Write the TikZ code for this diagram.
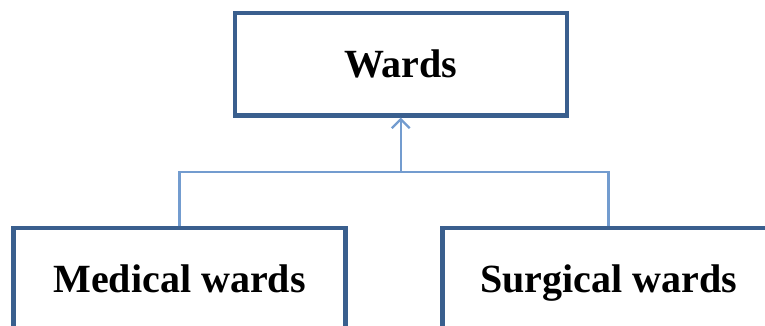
\documentclass[tikz,border=0pt]{standalone}
\usepackage{fontspec}
\setmainfont{Liberation Serif}
\usetikzlibrary{arrows.meta}
\definecolor{boxline}{HTML}{3A5F8E}
\definecolor{linkline}{HTML}{739CCF}
\tikzset{
  wardbox/.style={draw=boxline, line width=4.3pt, fill=white,
    minimum width=332pt, minimum height=102.5pt, inner sep=0pt,
    text height=28pt, text depth=2pt,
    font=\fontsize{40}{45}\selectfont\bfseries},
  link/.style={draw=linkline, line width=2.2pt},
  uparrow/.style={-{Straight Barb[length=9pt,width=18pt,line width=2.2pt]}}
}
\begin{document}
\begin{tikzpicture}[x=1pt,y=-1pt]
  \useasboundingbox (0,0) rectangle (765,326);
  % hierarchy boxes
  \node[wardbox] (wards) at (400.75,64.25) {Wards};
  \node[wardbox] (med)   at (179.5,279.25) {Medical wards};
  \node[wardbox] (surg)  at (608.5,279.25) {Surgical wards};
  % joint of the tree connector
  \coordinate (j) at (400.75,172.3);
  \draw[link] (med.north) |- (j) -| (surg.north);
  \draw[link,uparrow] (j) -- (wards.south);
\end{tikzpicture}
\end{document}
